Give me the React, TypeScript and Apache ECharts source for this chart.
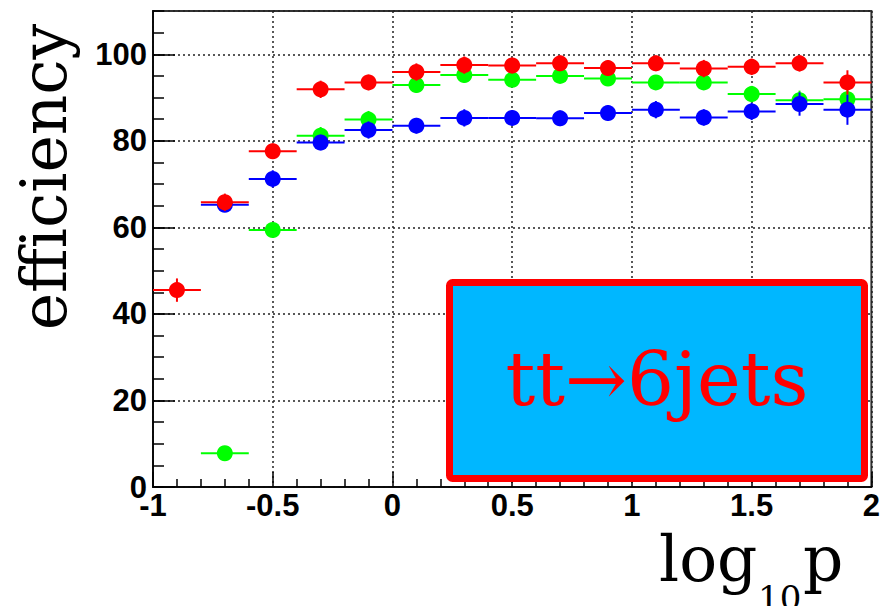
import { useEffect, useRef } from 'react';
import * as echarts from 'echarts';

// bin centres of log10(p) histogram (bin width 0.2)
const binCenters = [-0.9, -0.7, -0.5, -0.3, -0.1, 0.1, 0.3, 0.5, 0.7, 0.9, 1.1, 1.3, 1.5, 1.7, 1.9];
const binHalfWidth = 0.1;

// red: bins -0.9 .. 1.9
const redValues = [45.5, 65.8, 77.6, 91.9, 93.5, 95.9, 97.5, 97.4, 97.9, 96.8, 97.9, 96.7, 97.1, 97.9, 93.5];
const redErrors = [2.7, 2.0, 1.8, 2.0, 1.8, 2.0, 2.0, 1.8, 1.8, 1.8, 1.8, 2.0, 1.9, 1.9, 2.8];

// green: bins -0.7 .. 1.9
const greenValues = [7.8, 59.4, 81.2, 84.9, 92.9, 95.2, 94.1, 95.0, 94.4, 93.5, 93.5, 90.8, 89.4, 89.6];
const greenErrors = [1.5, 1.6, 2.0, 2.0, 1.8, 1.8, 1.6, 1.6, 1.6, 1.6, 1.6, 1.9, 2.2, 2.0];

// blue: bins -0.7 .. 1.9
const blueValues = [65.2, 71.2, 79.6, 82.5, 83.5, 85.3, 85.3, 85.2, 86.4, 87.2, 85.4, 86.8, 88.5, 87.2];
const blueErrors = [1.5, 2.0, 1.8, 2.0, 1.8, 2.0, 1.8, 1.8, 1.8, 2.0, 1.9, 2.0, 2.7, 3.5];

const yAxisTitle = 'efficiency';
const boxLabel = 'tt\u21926jets';

function toData(xs: number[], ys: number[], es: number[]) {
  return ys.map((y, i) => [xs[i], y, es[i]]);
}

function makeRenderItem(color: string) {
  return (params: any, api: any) => {
    const x = api.value(0);
    const y = api.value(1);
    const e = api.value(2);
    const pL = api.coord([x - binHalfWidth, y]);
    const pR = api.coord([x + binHalfWidth, y]);
    const pT = api.coord([x, y + e]);
    const pB = api.coord([x, y - e]);
    const c = api.coord([x, y]);
    return {
      type: 'group',
      children: [
        { type: 'line', shape: { x1: pL[0], y1: pL[1], x2: pR[0], y2: pR[1] }, style: { stroke: color, lineWidth: 2 } },
        { type: 'line', shape: { x1: pT[0], y1: pT[1], x2: pB[0], y2: pB[1] }, style: { stroke: color, lineWidth: 2 } },
        { type: 'circle', shape: { cx: c[0], cy: c[1], r: 8 }, style: { fill: color } },
      ],
    };
  };
}

export default function App() {
  const ref = useRef<HTMLDivElement>(null);
  useEffect(() => {
    document.body.style.margin = '0';
    if (!ref.current) return;
    const chart = echarts.init(ref.current, undefined, { renderer: 'svg' });
    const labelFont = { fontSize: 31, fontWeight: 'bold' as const, fontFamily: '"Liberation Sans", Arial, sans-serif', color: '#000' };
    const dotted = { color: '#222', type: [2, 3] as any, width: 1.5 };
    chart.setOption({
      animation: false,
      backgroundColor: '#fff',
      grid: { left: 153, right: 10, top: 11, bottom: 119, show: true, borderColor: '#333', borderWidth: 2, backgroundColor: 'transparent' },
      xAxis: {
        type: 'value', min: -1, max: 2, interval: 0.5,
        axisLine: { show: true, onZero: false, lineStyle: { color: '#000', width: 1.5 } },
        axisTick: { show: true, inside: true, length: 15, lineStyle: { color: '#000', width: 1.5 } },
        minorTick: { show: true, splitNumber: 5, length: 8, lineStyle: { color: '#000', width: 1.5 } },
        axisLabel: { ...labelFont, margin: 3 },
        splitLine: { show: true, lineStyle: dotted },
      },
      yAxis: [
        {
          type: 'value', min: 0, max: 110, interval: 20, position: 'left',
          axisLine: { show: true, onZero: false, lineStyle: { color: '#000', width: 1.5 } },
          axisTick: { show: true, inside: true, length: 22, lineStyle: { color: '#000', width: 1.5 } },
          axisLabel: { ...labelFont, margin: 6, showMaxLabel: false },
          splitLine: { show: true, lineStyle: dotted },
        },
        {
          type: 'value', min: 0, max: 110, interval: 5, position: 'left',
          axisLine: { show: false, onZero: false },
          axisTick: { show: true, inside: true, length: 11, lineStyle: { color: '#000', width: 1.5 } },
          axisLabel: { show: false },
          splitLine: { show: false },
        },
      ],
      series: [
        { type: 'custom', name: 'green', yAxisIndex: 0, renderItem: makeRenderItem('#00ff00'), data: toData(binCenters.slice(1), greenValues, greenErrors), z: 3 },
        { type: 'custom', name: 'blue', yAxisIndex: 0, renderItem: makeRenderItem('#0000ff'), data: toData(binCenters.slice(1), blueValues, blueErrors), z: 4 },
        { type: 'custom', name: 'red', yAxisIndex: 0, renderItem: makeRenderItem('#ff0000'), data: toData(binCenters, redValues, redErrors), z: 5 },
      ],
      graphic: [
        { type: 'rect', z: 100, shape: { x: 449.5, y: 282.5, width: 415, height: 196, r: 3 }, style: { fill: '#00b7ff', stroke: '#ff0000', lineWidth: 7 } },
        { type: 'text', z: 101, x: 657, y: 379, style: { text: boxLabel, fontSize: 74, fontFamily: '"DejaVu Serif", serif', fill: '#ff0000', align: 'center', verticalAlign: 'middle' } },
        { type: 'text', z: 101, x: 44, y: 177, rotation: Math.PI / 2, style: { text: yAxisTitle, fontSize: 63, fontFamily: '"DejaVu Serif", serif', fill: '#000', align: 'center', verticalAlign: 'middle' } },
        { type: 'text', z: 101, x: 659, y: 559, style: { text: 'log', fontSize: 63, fontFamily: '"DejaVu Serif", serif', fill: '#000', align: 'left', verticalAlign: 'middle' } },
        { type: 'text', z: 101, x: 758, y: 598, style: { text: '10', fontSize: 34, fontFamily: '"DejaVu Serif", serif', fill: '#000', align: 'left', verticalAlign: 'middle' } },
        { type: 'text', z: 101, x: 803, y: 559, style: { text: 'p', fontSize: 63, fontFamily: '"DejaVu Serif", serif', fill: '#000', align: 'left', verticalAlign: 'middle' } },
      ],
    });
    return () => chart.dispose();
  }, []);
  return <div ref={ref} style={{ width: 883, height: 606 }} />;
}
